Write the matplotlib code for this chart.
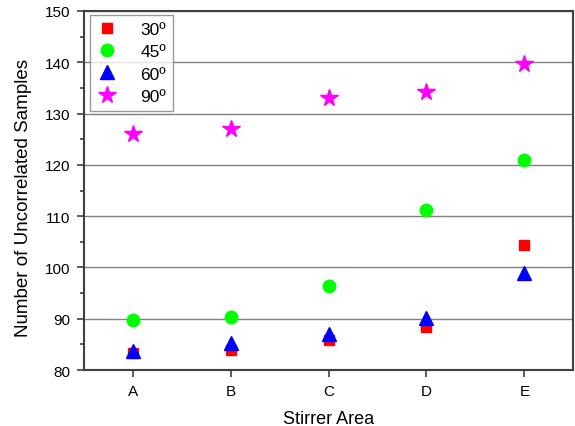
import matplotlib
matplotlib.use("Agg")
import matplotlib.pyplot as plt
from matplotlib.ticker import MultipleLocator

plt.rcParams['font.family'] = ['Liberation Sans', 'DejaVu Sans']

# --- data ---
areas = ["A", "B", "C", "D", "E"]
deg30 = [83.3, 84.0, 85.8, 88.3, 104.4]
deg45 = [89.8, 90.3, 96.4, 111.2, 121.0]
deg60 = [83.8, 85.2, 87.0, 90.1, 98.9]
deg90 = [126.0, 127.0, 133.0, 134.2, 139.7]

xpos = list(range(1, len(areas) + 1))

fig = plt.figure(figsize=(5.75, 4.27), dpi=100)
ax = fig.add_axes([0.146, 0.131, 0.851, 0.841])

ax.plot(xpos, deg30, 's', color='#ff0000', ms=7.5, ls='none', label="30º")
ax.plot(xpos, deg45, 'o', color='#00ff00', ms=9, ls='none', label="45º")
ax.plot(xpos, deg60, '^', color='#0000ff', ms=10, ls='none', label="60º")
ax.plot(xpos, deg90, '*', color='#ff00ff', ms=13, ls='none', label="90º")

ax.set_xlim(0.5, 5.5)
ax.set_ylim(80, 150)
ax.set_xticks(xpos)
ax.set_xticklabels(areas)
ax.yaxis.set_major_locator(MultipleLocator(10))
ax.yaxis.set_minor_locator(MultipleLocator(5))

ax.grid(True, axis='y', color='#808080', lw=1)
ax.set_axisbelow(True)

for s in ax.spines.values():
    s.set_linewidth(1.5)
    s.set_color('#404040')
ax.tick_params(which='major', direction='out', length=5, width=1.2, labelsize=11,
               color='#404040', pad=5)
ax.tick_params(which='minor', direction='out', length=3, width=1.2, color='#404040')

ax.set_xlabel("Stirrer Area", fontsize=13, labelpad=9)
ax.set_ylabel("Number of Uncorrelated Samples", fontsize=13.5)
ax.yaxis.set_label_coords(-0.106, 0.482)

leg = ax.legend(loc='upper left', fontsize=12.5, frameon=True, fancybox=False,
                edgecolor='#808080', handlelength=1.2, handletextpad=1.3,
                borderpad=0.4, labelspacing=0.4, borderaxespad=0,
                bbox_to_anchor=(0.012, 0.988))
leg.get_frame().set_linewidth(1)

fig.savefig("out.png", dpi=100)
